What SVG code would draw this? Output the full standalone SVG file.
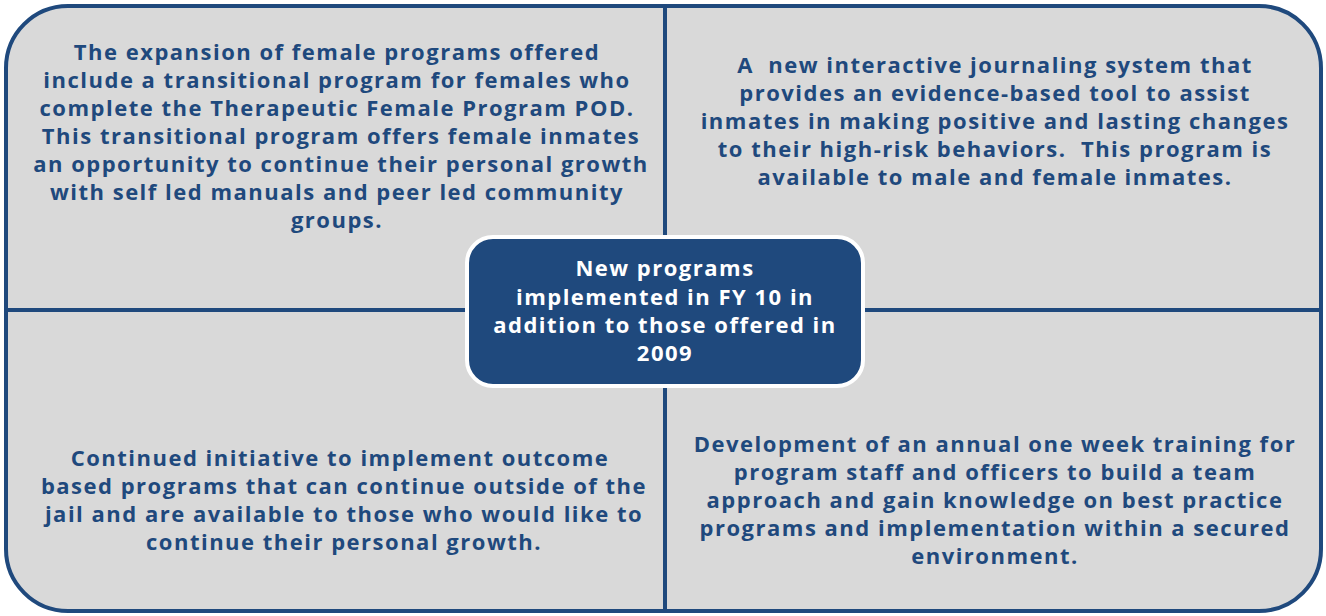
<svg xmlns="http://www.w3.org/2000/svg" width="1326" height="616" viewBox="0 0 1326 616">
  <style>
    .q { font-family: "Open Sans", "Liberation Sans", sans-serif; font-weight: bold; font-size: 22px; letter-spacing: 1.5px; fill: #1f497d; text-anchor: middle; }
    .c { font-family: "Open Sans", "Liberation Sans", sans-serif; font-weight: bold; font-size: 22px; letter-spacing: 1.5px; fill: #ffffff; text-anchor: middle; }
    .div { stroke: #1f497d; stroke-width: 4; fill: none; }
  </style>
  <rect width="1326" height="616" fill="#ffffff"/>
  <g id="frame">
    <rect x="6" y="6" width="1315" height="605" rx="62" ry="62" fill="#d9d9d9" stroke="#1f497d" stroke-width="4"/>
  </g>
  <g id="connectors">
    <line class="div" x1="665" y1="6" x2="665" y2="611"/>
    <line class="div" x1="6" y1="310" x2="1321" y2="310"/>
  </g>
  <g id="top-left">
    <text class="q" x="337" y="60">The expansion of female programs offered</text>
    <text class="q" x="337" y="88">include a transitional program for females who</text>
    <text class="q" x="337" y="116">complete the Therapeutic Female Program POD.</text>
    <text class="q" x="341" y="144">This transitional program offers female inmates</text>
    <text class="q" x="341" y="172">an opportunity to continue their personal growth</text>
    <text class="q" x="337" y="200">with self led manuals and peer led community</text>
    <text class="q" x="337" y="228">groups.</text>
  </g>
  <g id="top-right">
    <text class="q" x="995" y="73" xml:space="preserve">A  new interactive journaling system that</text>
    <text class="q" x="995" y="101">provides an evidence-based tool to assist</text>
    <text class="q" x="995" y="129">inmates in making positive and lasting changes</text>
    <text class="q" x="995" y="157" xml:space="preserve">to their high-risk behaviors.  This program is</text>
    <text class="q" x="995" y="185">available to male and female inmates.</text>
  </g>
  <g id="bottom-left">
    <text class="q" x="340" y="466">Continued initiative to implement outcome</text>
    <text class="q" x="344" y="494">based programs that can continue outside of the</text>
    <text class="q" x="344" y="522">jail and are available to those who would like to</text>
    <text class="q" x="344" y="550">continue their personal growth.</text>
  </g>
  <g id="bottom-right">
    <text class="q" x="995" y="452">Development of an annual one week training for</text>
    <text class="q" x="995" y="480">program staff and officers to build a team</text>
    <text class="q" x="995" y="508">approach and gain knowledge on best practice</text>
    <text class="q" x="995" y="536">programs and implementation within a secured</text>
    <text class="q" x="995" y="564">environment.</text>
  </g>
  <g id="center">
    <rect x="467" y="237" width="396" height="149" rx="26" ry="26" fill="#1f497d" stroke="#ffffff" stroke-width="4"/>
    <text class="c" x="665" y="276">New programs</text>
    <text class="c" x="665" y="305">implemented in FY 10 in</text>
    <text class="c" x="665" y="333">addition to those offered in</text>
    <text class="c" x="665" y="361">2009</text>
  </g>
</svg>
